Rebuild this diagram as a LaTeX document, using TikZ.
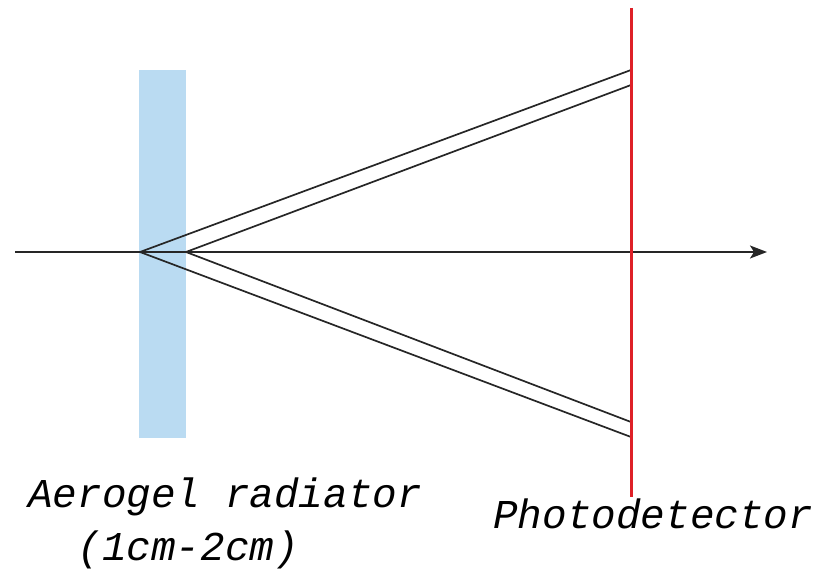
\documentclass[tikz,border=0pt]{standalone}
\usepackage{fontspec}
\setmonofont{Liberation Mono}
\usetikzlibrary{arrows.meta,positioning}
\definecolor{aerogelblue}{RGB}{186,219,242}
\definecolor{detred}{RGB}{222,32,40}

\begin{document}
\begin{tikzpicture}[
  x=1pt,y=-1pt,
  ray/.style={line width=1.7pt,black!85},
  lbl/.style={font=\fontsize{41}{53}\selectfont\ttfamily\itshape,inner sep=0pt,anchor=base west,align=left}
]
\useasboundingbox (0,0) rectangle (827,569);

% radiator and detector plane
\node[fill=aerogelblue,minimum width=47pt,minimum height=368pt,inner sep=0pt,anchor=north west] (aerogel) at (139,70) {};
\coordinate (dettop) at (631,8);
\coordinate (detbot) at (631,497);

% beam axis and cone apexes
\coordinate (beamin) at (15,252);
\coordinate (beamout) at (767,252);
\coordinate (apexa) at (140,252);
\coordinate (apexb) at (186,252);
\coordinate (hitao) at (631,70);
\coordinate (hitbo) at (631,85);
\coordinate (hitau) at (631,437);
\coordinate (hitbu) at (631,422);

\draw[ray,-{Stealth[length=17pt,width=13pt,inset=4pt]}] (beamin) -- (beamout);
\draw[ray] (apexa) -- (hitao);
\draw[ray] (apexb) -- (hitbo);
\draw[ray] (apexa) -- (hitau);
\draw[ray] (apexb) -- (hitbu);
\draw[detred,line width=3pt] (dettop) -- (detbot);

\node[lbl] (radlabel) at (28,560) {Aerogel radiator\\~~(1cm-2cm)};
\node[lbl] (detlabel) at (493,528) {Photodetector};
\end{tikzpicture}
\end{document}
